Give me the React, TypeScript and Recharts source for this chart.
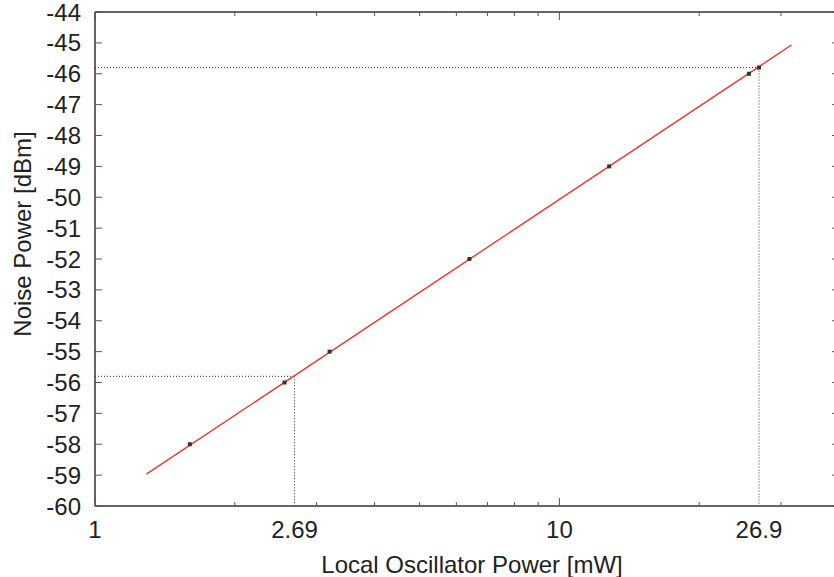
import React from 'react'
import {
  ComposedChart, Line, Scatter, XAxis, YAxis, ReferenceLine,
} from 'recharts'

// measured points (mW, dBm)
const measuredPower = [1.6, 2.56, 3.2, 6.4, 12.8, 25.6, 26.9]
const measuredNoise = [-58, -56, -55, -52, -49, -46, -45.8]

// linear fit, drawn as a straight segment on the log axis
const fitPower = [1.29, 31.6]
const fitNoise = [-58.97, -45.07]

// marked operating points with dotted guides
const markPower = [2.69, 26.9]
const markNoise = [-55.8, -45.8]

const xLabelTicks = [1, 2.69, 10, 26.9]
const xMajorTicks = [1, 10]
const xMinorTicks = [2, 3, 4, 5, 6, 7, 8, 9, 20, 30]
const yTicks = [-60, -59, -58, -57, -56, -55, -54, -53, -52, -51, -50, -49, -48, -47, -46, -45, -44]

const xAllTicks = [...xMajorTicks, ...xMinorTicks, 2.69, 26.9].sort((a, b) => a - b)

const FONT = '"Liberation Sans", Arial, Helvetica, sans-serif'
const TEXT = '#222'
const TICK = '#555'
const FRAME = '#333'
const RED = '#e8352b'

const measured = measuredPower.map((p, i) => ({ power: p, noise: measuredNoise[i] }))
const fit = fitPower.map((p, i) => ({ power: p, noise: fitNoise[i] }))

function BottomTick({ x, y, payload }: any) {
  const v = payload.value
  return (
    <g>
      {xMajorTicks.includes(v) && <line x1={x} x2={x} y1={y} y2={y - 8} stroke={TICK} />}
      {xMinorTicks.includes(v) && <line x1={x} x2={x} y1={y} y2={y - 4} stroke={TICK} />}
      {xLabelTicks.includes(v) && (
        <text x={x} y={y + 32} textAnchor="middle" fontSize={24} fill={TEXT} fontFamily={FONT}>{v}</text>
      )}
    </g>
  )
}

function TopTick({ x, y, payload }: any) {
  const v = payload.value
  if (xMajorTicks.includes(v)) return <line x1={x} x2={x} y1={y} y2={y + 8} stroke={TICK} />
  if (xMinorTicks.includes(v)) return <line x1={x} x2={x} y1={y} y2={y + 4} stroke={TICK} />
  return <g />
}

function LeftTick({ x, y, payload }: any) {
  return (
    <g>
      <line x1={x} x2={x + 7} y1={y} y2={y} stroke={TICK} />
      <text x={x - 14} y={y + 8.5} textAnchor="end" fontSize={24} fill={TEXT} fontFamily={FONT}>{payload.value}</text>
    </g>
  )
}

function RightTick({ x, y }: any) {
  return <line x1={x} x2={x - 7} y1={y} y2={y} stroke={TICK} />
}

function Square({ cx, cy }: any) {
  return <rect x={cx - 2} y={cy - 2} width={4} height={4} fill="#333" />
}

export default function App() {
  return (
    <div>
      <style>{'body{margin:0;overflow:hidden;background:#fff}'}</style>
      <ComposedChart width={840} height={577} margin={{ top: 0, right: 0, bottom: 0, left: 0 }}>
        <XAxis
          xAxisId="b" dataKey="power" type="number" scale="log" domain={[1, 40]} allowDataOverflow
          orientation="bottom" height={71} ticks={xAllTicks} interval={0}
          tick={<BottomTick />} tickLine={false} tickSize={0} tickMargin={0}
          axisLine={{ stroke: FRAME, strokeWidth: 1.5 }}
          label={{
            content: ({ viewBox }: any) => (
              <text x={472} y={viewBox.y + 67} textAnchor="middle" fontSize={24} fill={TEXT} fontFamily={FONT}>
                Local Oscillator Power [mW]
              </text>
            ),
          }}
        />
        <XAxis
          xAxisId="t" dataKey="power" type="number" scale="log" domain={[1, 40]} allowDataOverflow
          orientation="top" height={12} ticks={xAllTicks} interval={0}
          tick={<TopTick />} tickLine={false} tickSize={0} tickMargin={0}
          axisLine={{ stroke: FRAME, strokeWidth: 1.5 }}
        />
        <YAxis
          yAxisId="l" type="number" domain={[-60, -44]} allowDataOverflow
          orientation="left" width={95} ticks={yTicks} interval={0}
          tick={<LeftTick />} tickLine={false} tickSize={0} tickMargin={0}
          axisLine={{ stroke: FRAME, strokeWidth: 1.5 }}
          label={{
            content: ({ viewBox }: any) => {
              const cx = 31
              const cy = viewBox.y + viewBox.height / 2 - 25
              return (
                <text x={cx} y={cy} transform={`rotate(-90, ${cx}, ${cy})`} textAnchor="middle" fontSize={24} fill={TEXT} fontFamily={FONT}>
                  Noise Power [dBm]
                </text>
              )
            },
          }}
        />
        <YAxis
          yAxisId="r" type="number" domain={[-60, -44]} allowDataOverflow
          orientation="right" width={1} ticks={yTicks} interval={0}
          tick={<RightTick />} tickLine={false} tickSize={0} tickMargin={0}
          axisLine={{ stroke: FRAME, strokeWidth: 1.5 }}
        />

        {markPower.map((p, i) => (
          <ReferenceLine
            key={`h${i}`} xAxisId="b" yAxisId="l" ifOverflow="visible"
            segment={[{ x: 1, y: markNoise[i] }, { x: p, y: markNoise[i] }]}
            stroke="#333" strokeDasharray="1 2"
          />
        ))}
        {markPower.map((p, i) => (
          <ReferenceLine
            key={`v${i}`} xAxisId="b" yAxisId="l" ifOverflow="visible"
            segment={[{ x: p, y: markNoise[i] }, { x: p, y: -60 }]}
            stroke="#333" strokeDasharray="1 2"
          />
        ))}

        <Line
          xAxisId="b" yAxisId="l" data={fit} dataKey="noise" stroke={RED} strokeWidth={1.4}
          dot={false} activeDot={false} isAnimationActive={false}
        />
        <Scatter
          xAxisId="b" yAxisId="l" data={measured} dataKey="noise" shape={<Square />}
          isAnimationActive={false}
        />
      </ComposedChart>
    </div>
  )
}
